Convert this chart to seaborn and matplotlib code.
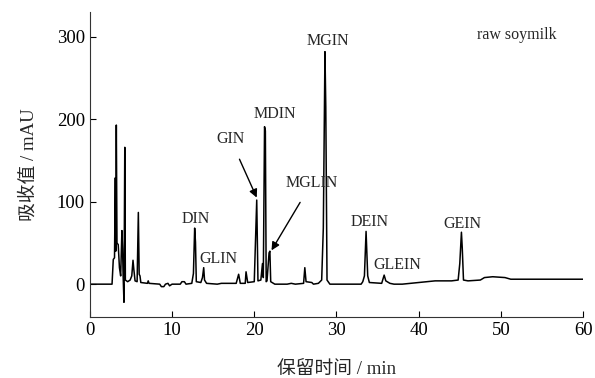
import matplotlib
matplotlib.use('Agg')
import matplotlib.pyplot as plt
import seaborn as sns
import pandas as pd

# chromatogram: retention time (min) and absorbance (mAU)
time = [0, 2.7, 2.85, 3.0, 3.1, 3.15, 3.22, 3.3, 3.45, 3.6, 3.75, 3.9, 3.98, 4.05,
        4.15, 4.25, 4.32, 4.6, 4.9, 5.1, 5.25, 5.35, 5.5, 5.75, 5.9, 6.0, 6.1, 6.2,
        7.0, 7.1, 7.2, 8.5, 8.7, 9.0, 9.2, 9.5, 9.7, 10.0, 11.0, 11.2, 11.5, 11.7,
        12.4, 12.6, 12.75, 12.85, 12.95, 13.5, 13.7, 13.85, 13.95, 14.2, 15.5, 16.0,
        17.8, 18.1, 18.3, 18.9, 19.0, 19.2, 20.0, 20.3, 20.45, 20.8, 21.0, 21.1,
        21.25, 21.35, 21.45, 21.55, 21.8, 21.9, 22.0, 22.5, 24.0, 24.5, 25.0, 26.0,
        26.15, 26.3, 27.0, 27.2, 27.8, 28.2, 28.4, 28.6, 28.7, 28.85, 29.2, 33.0,
        33.2, 33.4, 33.6, 33.8, 34.0, 35.5, 35.8, 36.0, 36.5, 37.0, 38.0, 39.0,
        40.0, 41.0, 42.0, 44.0, 44.8, 45.0, 45.2, 45.3, 45.45, 46.0, 47.5, 48.0,
        49.0, 50.5, 51.2, 60.0]
absorbance = [0, 0, 30, 32, 129, 40, 193, 50, 48, 20, 10, 65, 43, 10,
              -22, 166, 5, 3, 5, 10, 29, 18, 4, 3, 87, 12, 10, 2,
              1, 4, 1, 0, -3, -3, 0, 1, -2, 0, 0, 3, 3, 0,
              1, 13, 68, 51, 3, 2, 8, 20, 5, 1, 0, 1,
              1, 12, 1, 1, 15, 2, 3, 102, 4, 5, 25, 8,
              191, 186, 3, 4, 38, 40, 3, 0, 0, 1, 0, 1,
              20, 3, 2, 0, 1, 5, 68, 282, 215, 5, 0, 0,
              3, 10, 64, 10, 2, 1, 11, 4, 1, 0, 0, 1,
              2, 3, 4, 4, 5, 25, 63, 44, 5, 4, 5, 8,
              9, 8, 6, 6]

# peak labels: name, text position (min, mAU)
labels = ['MGIN', 'MDIN', 'DIN', 'GLIN', 'DEIN', 'GLEIN', 'GEIN']
label_x = [29.0, 22.5, 12.9, 15.6, 34.0, 37.4, 45.3]
label_y = [295, 207, 79, 30, 75, 23, 73]

# labels with arrows: name, text position, arrow tip
arrow_labels = ['GIN', 'MGLIN']
arrow_text_x = [17.1, 27.0]
arrow_text_y = [176, 123]
arrow_tip_x = [20.3, 22.1]
arrow_tip_y = [105, 41]

df = pd.DataFrame({'time': time, 'absorbance': absorbance})

sns.set_style('ticks')
plt.rcParams['font.family'] = ['Liberation Serif', 'Noto Sans CJK SC']

fig = plt.figure(figsize=(5.95, 3.78), dpi=100)
ax = fig.add_axes([0.151, 0.161, 0.829, 0.807])
sns.lineplot(x='time', y='absorbance', data=df, color='black', linewidth=1.1,
             estimator=None, ax=ax)

for name, lx, ly in zip(labels, label_x, label_y):
    ax.text(lx, ly, name, ha='center', va='center', fontsize=11.5)

for name, tx, ty, px, py in zip(arrow_labels, arrow_text_x, arrow_text_y,
                                arrow_tip_x, arrow_tip_y):
    ax.annotate(name, xy=(px, py), xytext=(tx, ty), ha='center', va='center',
                fontsize=11.5,
                arrowprops=dict(arrowstyle='-|>', color='black', lw=1.0,
                                shrinkA=7, shrinkB=0, mutation_scale=12))

ax.text(0.865, 0.925, 'raw soymilk', transform=ax.transAxes, ha='center',
        va='center', fontsize=11.5)

ax.set_xlim(0, 60)
ax.set_ylim(-40, 330)
ax.set_xticks(range(0, 61, 10))
ax.set_yticks([0, 100, 200, 300])
ax.tick_params(direction='in', length=4, labelsize=13.5, colors='black')
ax.set_xlabel('保留时间 / min', fontsize=13.5, labelpad=16)
ax.set_ylabel('吸收值 / mAU', fontsize=13.5, labelpad=14)
sns.despine(ax=ax)
for s in ['left', 'bottom']:
    ax.spines[s].set_color('#333333')

fig.savefig('out.png', dpi=100)
